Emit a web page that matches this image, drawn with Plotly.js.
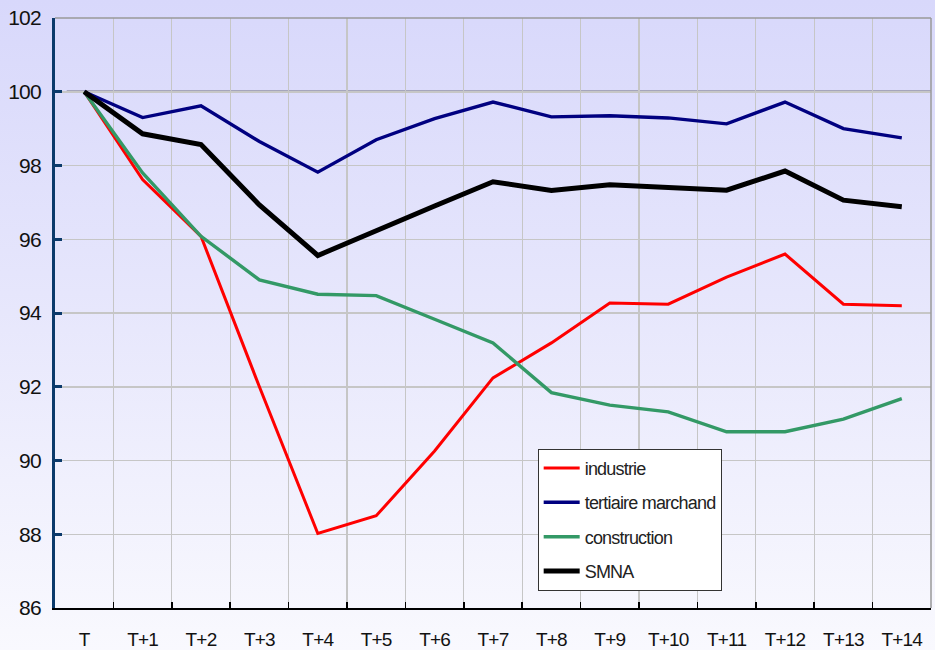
<!DOCTYPE html>
<html>
<head>
<meta charset="utf-8">
<script src="https://cdn.plot.ly/plotly-3.0.1.min.js"></script>
<style>
  html, body { margin: 0; padding: 0; }
  body { width: 935px; height: 650px; background: linear-gradient(to bottom, #d8d8fb 0%, #e6e6fc 45%, #f9f9fe 100%); }
  #chart { width: 935px; height: 650px; }
  svg text { letter-spacing: -0.8px; }
</style>
</head>
<body>
<div id="chart"></div>
<script>
const categories = ["T", "T+1", "T+2", "T+3", "T+4", "T+5", "T+6", "T+7", "T+8", "T+9", "T+10", "T+11", "T+12", "T+13", "T+14"];
const industrie = [100, 97.62, 96.08, 92.0, 88.02, 88.5, 90.26, 92.24, 93.19, 94.27, 94.24, 94.97, 95.6, 94.24, 94.2];
const tertiaire = [100, 99.3, 99.62, 98.65, 97.82, 98.7, 99.27, 99.72, 99.32, 99.35, 99.29, 99.13, 99.72, 99.0, 98.75];
const construction = [100, 97.8, 96.08, 94.9, 94.51, 94.47, 93.83, 93.19, 91.84, 91.5, 91.32, 90.78, 90.78, 91.12, 91.68];
const smna = [100, 98.86, 98.57, 96.93, 95.56, 96.24, 96.9, 97.56, 97.32, 97.48, 97.41, 97.33, 97.85, 97.06, 96.88];
const yTicks = [86, 88, 90, 92, 94, 96, 98, 100, 102];
const referenceLevel = 100;

const font = "'Liberation Sans', Arial, sans-serif";

const traces = [
  {name: "industrie", y: industrie, color: "#ff0000", width: 3},
  {name: "tertiaire marchand", y: tertiaire, color: "#000080", width: 3.4},
  {name: "construction", y: construction, color: "#339966", width: 3.4},
  {name: "SMNA", y: smna, color: "#000000", width: 5}
].map((s, i) => ({
  type: "scatter", mode: "lines", x: categories, y: s.y, name: s.name,
  legendgroup: "g" + i,
  line: {color: s.color, width: s.width}
}));

const layout = {
  width: 935, height: 650,
  paper_bgcolor: "rgba(0,0,0,0)", plot_bgcolor: "rgba(0,0,0,0)",
  margin: {l: 55, r: 4, t: 18, b: 42},
  font: {family: font, color: "#111"},
  showlegend: true,
  legend: {
    x: 0.551, y: 0.27, xanchor: "left", yanchor: "top",
    bgcolor: "#ffffff", bordercolor: "#333333", borderwidth: 1,
    font: {family: font, size: 18, color: "#222"},
    tracegroupgap: 8, traceorder: "grouped", itemwidth: 36
  },
  xaxis: {
    type: "category", categoryorder: "array", categoryarray: categories,
    range: [-0.5, 14.5], tickson: "boundaries",
    showgrid: true, gridcolor: "#c6c6c6", gridwidth: 1.3,
    showline: true, linecolor: "#000", linewidth: 2,
    ticks: "inside", ticklen: 6, tickwidth: 1.5, tickcolor: "#000",
    tickfont: {family: font, size: 19, color: "#111"},
    ticklabelstandoff: 13,
    zeroline: false, fixedrange: true
  },
  yaxis: {
    range: [86, 102], tickvals: yTicks, ticktext: yTicks.map(String),
    showgrid: true, gridcolor: "#c6c6c6", gridwidth: 1.5,
    showline: true, linecolor: "#0b3a6b", linewidth: 3,
    ticks: "inside", ticklen: 7, tickwidth: 3, tickcolor: "#0b3a6b",
    tickfont: {family: font, size: 21, color: "#111"},
    ticklabelstandoff: 7,
    zeroline: false, fixedrange: true
  },
  shapes: [
    {type: "line", xref: "paper", yref: "paper", x0: 0, x1: 1, y0: 1, y1: 1, line: {color: "#999", width: 1.5}},
    {type: "line", xref: "paper", yref: "paper", x0: 1, x1: 1, y0: 0, y1: 1, line: {color: "#999", width: 1.5}},
    {type: "line", xref: "paper", yref: "y", x0: 0.0134, x1: 1, y0: referenceLevel, y1: referenceLevel, layer: "below", line: {color: "#000", width: 2}}
  ]
};

Plotly.newPlot("chart", traces, layout, {displayModeBar: false, staticPlot: true});
</script>
</body>
</html>
